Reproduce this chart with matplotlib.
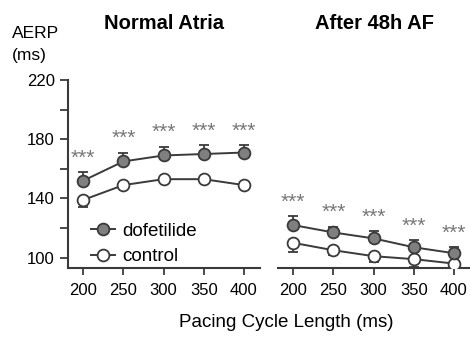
import matplotlib.pyplot as plt
from matplotlib.lines import Line2D
import numpy as np

plt.rcParams['font.family'] = ['Liberation Sans', 'DejaVu Sans']

# pacing cycle length (ms)
cycle = [200, 250, 300, 350, 400]

# Normal atria, AERP (ms)
normal_dof = [152, 165, 169, 170, 171]
normal_dof_err = [6, 6, 6, 6, 5]
normal_ctl = [139, 149, 153, 153, 149]
normal_ctl_err = [5, 2, 2, 2, 2]

# After 48h AF, AERP (ms)
af_dof = [122, 117, 113, 107, 103]
af_dof_err = [6, 4, 5, 5, 4]
af_ctl = [110, 105, 101, 99, 96]
af_ctl_err = [6, 3, 4, 5, 2]

titles = ["Normal Atria", "After 48h AF"]
line_col = "#3a3a3a"
dof_fill = "#7f7f7f"

fig = plt.figure(figsize=(4.7, 3.37), dpi=100)
ax1 = fig.add_axes([0.1447, 0.2047, 0.4085, 0.558])
ax2 = fig.add_axes([0.5915, 0.2047, 0.4085, 0.558])

panels = [(ax1, normal_dof, normal_dof_err, normal_ctl, normal_ctl_err),
          (ax2, af_dof, af_dof_err, af_ctl, af_ctl_err)]

for i, (ax, dof, dof_e, ctl, ctl_e) in enumerate(panels):
    zeros = np.zeros(len(cycle))
    # control: error bars point down
    ax.errorbar(cycle, ctl, yerr=[ctl_e, zeros], fmt="-o", color=line_col,
                mfc="white", mec=line_col, ms=8.5, mew=1.3, lw=1.4,
                elinewidth=1.3, capsize=3.5, capthick=1.3, zorder=3)
    # dofetilide: error bars point up
    ax.errorbar(cycle, dof, yerr=[zeros, dof_e], fmt="-o", color=line_col,
                mfc=dof_fill, mec=line_col, ms=8.5, mew=1.3, lw=1.4,
                elinewidth=1.3, capsize=3.5, capthick=1.3, zorder=3)

    # significance stars above each dofetilide point
    for x, y, e in zip(cycle, dof, dof_e):
        ax.annotate("***", (x, y + e), xytext=(0, 10), textcoords="offset points",
                    ha="center", va="center", fontsize=15, color="#777777")

    ax.set_xlim(181, 420)
    ax.set_ylim(93, 220)
    ax.set_xticks(cycle)
    ax.set_xticklabels([str(c) for c in cycle])
    ax.tick_params(axis="x", direction="out", length=5, width=1.3, color=line_col,
                   labelsize=12, pad=6)
    for s in ["top", "right"]:
        ax.spines[s].set_visible(False)
    ax.spines["bottom"].set_linewidth(1.5)
    ax.spines["bottom"].set_color(line_col)
    ax.set_title(titles[i], fontsize=14.5, fontweight="bold", pad=37)

ax1.set_yticks([100, 120, 140, 160, 180, 200, 220])
ax1.set_yticklabels(["100", "", "140", "", "180", "", "220"])
ax1.tick_params(axis="y", direction="out", length=6, width=1.3, color=line_col,
                labelsize=12)
ax1.spines["left"].set_linewidth(1.5)
ax1.spines["left"].set_color(line_col)

ax2.spines["left"].set_visible(False)
ax2.set_yticks([])

handles = [
    Line2D([], [], color=line_col, marker="o", mfc=dof_fill, mec=line_col, ms=8.5, mew=1.3, lw=1.4),
    Line2D([], [], color=line_col, marker="o", mfc="white", mec=line_col, ms=8.5, mew=1.3, lw=1.4),
]
ax1.legend(handles, ["dofetilide", "control"], loc="lower left", bbox_to_anchor=(0.06, -0.045),
           frameon=False, fontsize=13.5, handlelength=1.3, handletextpad=0.4,
           labelspacing=0.45, borderaxespad=0.2)

fig.text(0.026, 0.9, "AERP", fontsize=12.5, ha="left", va="center")
fig.text(0.026, 0.835, "(ms)", fontsize=12.5, ha="left", va="center")
fig.text(0.61, 0.042, "Pacing Cycle Length (ms)", fontsize=13.5, ha="center", va="center")

fig.savefig("out.png", dpi=100)
